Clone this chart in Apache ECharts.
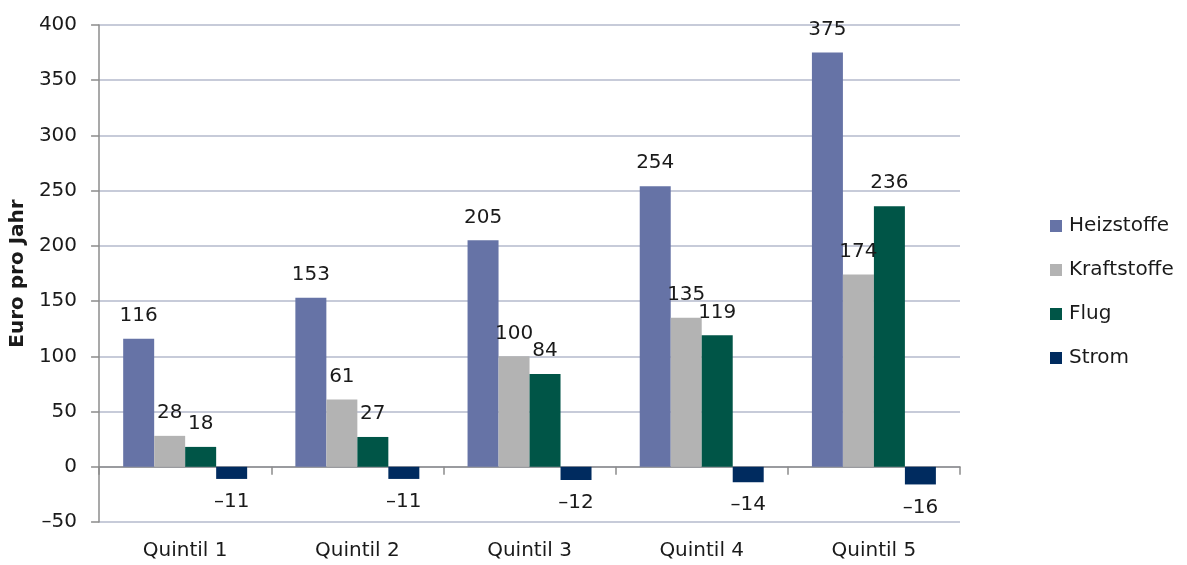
<!DOCTYPE html>
<html>
<head>
<meta charset="utf-8">
<script src="https://cdn.jsdelivr.net/npm/echarts@6/dist/echarts.min.js"></script>
<style>
  html, body { margin: 0; padding: 0; background: #fff; }
  #chart { width: 1187px; height: 565px; }
</style>
</head>
<body>
<div id="chart"></div>
<script>
// Belastung nach Einkommensquintil, Euro pro Jahr
const categories = ['Quintil 1', 'Quintil 2', 'Quintil 3', 'Quintil 4', 'Quintil 5'];
const seriesNames = ['Heizstoffe', 'Kraftstoffe', 'Flug', 'Strom'];
const heizstoffe = [116, 153, 205, 254, 375];
const kraftstoffe = [28, 61, 100, 135, 174];
const flug = [18, 27, 84, 119, 236];
const strom = [-11, -11, -12, -14, -16];
const colors = ['#6673a6', '#b3b3b3', '#005547', '#002b5f'];

const FONT = 'DejaVu Sans';
const TEXT = '#1a1a1a';
const fmt = v => String(v).replace('-', '\u2013');

function seriesData(values) {
  return values.map(v => ({
    value: v,
    label: { position: v < 0 ? 'bottom' : 'top' }
  }));
}

const allValues = [heizstoffe, kraftstoffe, flug, strom];

const chart = echarts.init(document.getElementById('chart'), null, { renderer: 'canvas' });
chart.setOption({
  animation: false,
  textStyle: { fontFamily: FONT, color: TEXT },
  grid: { left: 98, right: 227, top: 25, bottom: 43 },
  legend: {
    orient: 'vertical',
    left: 1045,
    top: 211,
    itemWidth: 12,
    itemHeight: 12,
    itemGap: 24,
    icon: 'rect',
    textStyle: { fontFamily: FONT, fontSize: 20, color: TEXT, padding: [0, 0, 0, 2] },
    data: seriesNames
  },
  xAxis: [
    {
      type: 'category',
      data: categories,
      axisLine: { onZero: true, lineStyle: { color: '#8c8c8c', width: 1.5 } },
      axisTick: { show: true, length: 8, lineStyle: { color: '#8c8c8c', width: 1.5 } },
      axisLabel: { show: false }
    },
    {
      type: 'category',
      data: categories,
      position: 'bottom',
      axisLine: { show: false, onZero: false },
      axisTick: { show: false },
      axisLabel: { margin: 19, fontSize: 20, color: TEXT, fontFamily: FONT }
    }
  ],
  yAxis: {
    type: 'value',
    min: -50,
    max: 400,
    interval: 50,
    name: 'Euro pro Jahr',
    nameLocation: 'middle',
    nameGap: 64,
    nameTextStyle: { fontFamily: FONT, fontSize: 20, fontWeight: 'bold', color: TEXT },
    axisLine: { show: true, lineStyle: { color: '#8c8c8c', width: 1.5 } },
    axisTick: { show: true, length: 8, lineStyle: { color: '#8c8c8c', width: 1.5 } },
    axisLabel: { margin: 22, fontSize: 20, color: TEXT, fontFamily: FONT, formatter: fmt },
    splitLine: { lineStyle: { color: '#b4bacd', width: 1.5 } }
  },
  series: seriesNames.map((name, i) => ({
    name,
    type: 'bar',
    xAxisIndex: 0,
    barGap: '0%',
    barCategoryGap: '28%',
    itemStyle: { color: colors[i] },
    label: {
      show: true,
      distance: 13,
      fontSize: 20,
      color: TEXT,
      fontFamily: FONT,
      formatter: p => fmt(p.value)
    },
    data: seriesData(allValues[i])
  }))
});
</script>
</body>
</html>
